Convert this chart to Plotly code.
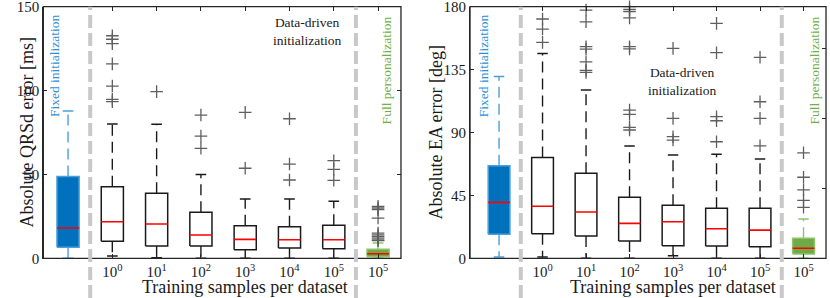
import plotly.graph_objects as go

# ---------------- data ----------------
tick_labels = ["10<sup>0</sup>", "10<sup>1</sup>", "10<sup>2</sup>", "10<sup>3</sup>",
               "10<sup>4</sup>", "10<sup>5</sup>", "10<sup>5</sup>"]
groups = ["fixed", "data", "data", "data", "data", "data", "data", "full"]

# Left panel: absolute QRSd error [ms]
qrs_q1 = [6.6, 10.1, 7.3, 7.3, 5.1, 6.1, 5.7, 1.0]
qrs_med = [18.1, 21.8, 20.5, 13.9, 11.3, 11.1, 11.1, 2.7]
qrs_q3 = [48.7, 42.7, 38.8, 27.4, 19.4, 18.8, 19.7, 5.4]
qrs_lo = [0.0, 1.4, 0.4, 0.0, 0.0, 0.0, 0.0, 0.0]
qrs_hi = [87.8, 80.0, 79.9, 50.0, 35.4, 35.4, 34.0, 9.1]
qrs_out = [[], [93.4, 94.8, 102.7, 115.9, 128.0, 130.6, 132.7], [99.4],
           [65.6, 72.9, 85.4], [53.7, 87.0], [46.7, 56.2, 83.2], [46.5, 53.0, 58.2],
           [10.5, 11.0, 12.0, 13.0, 14.0, 15.0, 24.0, 29.0, 30.0, 31.0]]

# Right panel: absolute EA error [deg]
ea_q1 = [17.2, 17.6, 16.0, 12.4, 9.0, 8.8, 8.3, 3.1]
ea_med = [40.0, 37.2, 33.1, 25.0, 26.2, 21.2, 20.2, 7.2]
ea_q3 = [66.2, 72.2, 60.8, 43.6, 37.9, 35.8, 35.8, 14.3]
ea_lo = [1.0, 1.0, 0.0, 0.0, 1.9, 0.0, 0.0, 0.0]
ea_hi = [130.0, 146.6, 120.4, 80.3, 73.9, 74.4, 71.0, 28.1]
ea_out = [[], [154.5, 164.0, 171.2],
          [133.0, 134.5, 140.6, 149.7, 151.4, 169.2, 177.6],
          [91.8, 93.7, 103.0, 106.0, 149.8, 151.4, 172.0, 176.5, 178.0, 180.0],
          [84.6, 87.0, 100.1, 150.2], [83.4, 98.4, 101.3, 147.1, 168.1],
          [80.5, 100.1, 112.0, 143.8], [36.5, 41.5, 49.0, 58.0, 75.5]]

# ---------------- styles ----------------
FONT = "Liberation Serif"
FRAME = "#262626"
STY = {
    "fixed": dict(fill="#0072BD", edge="#4A9FDA", whisk="#4A9FDA"),
    "data": dict(fill="white", edge="#1a1a1a", whisk="#1a1a1a"),
    "full": dict(fill="#6FAA46", edge="#8CC46A", whisk="#8CC46A"),
}
HALF = 0.25
CAP = 0.12

fig = go.Figure()


def add_panel(q1, med, q3, lo, hi, out, xa, ya):
    for i in range(len(q1)):
        p = i + 1
        s = STY[groups[i]]
        # dashed whiskers
        fig.add_trace(go.Scatter(
            x=[p, p, None, p, p], y=[q3[i], hi[i], None, q1[i], lo[i]],
            mode="lines", line=dict(color=s["whisk"], width=1.4, dash="11px,6px"),
            xaxis=xa, yaxis=ya, showlegend=False, hoverinfo="skip"))
        # whisker caps
        fig.add_trace(go.Scatter(
            x=[p - CAP, p + CAP, None, p - CAP, p + CAP],
            y=[hi[i], hi[i], None, lo[i], lo[i]],
            mode="lines", line=dict(color=s["whisk"], width=1.5),
            xaxis=xa, yaxis=ya, showlegend=False, hoverinfo="skip"))
        # box (q1..q3)
        fig.add_trace(go.Scatter(
            x=[p - HALF, p + HALF, p + HALF, p - HALF, p - HALF],
            y=[q1[i], q1[i], q3[i], q3[i], q1[i]],
            mode="lines", fill="toself", fillcolor=s["fill"],
            line=dict(color=s["edge"], width=1.5),
            xaxis=xa, yaxis=ya, showlegend=False, hoverinfo="skip"))
        # median
        fig.add_trace(go.Scatter(
            x=[p - HALF, p + HALF], y=[med[i], med[i]],
            mode="lines", line=dict(color="#FF0000", width=1.6),
            xaxis=xa, yaxis=ya, showlegend=False, hoverinfo="skip"))
        # outliers
        if out[i]:
            fig.add_trace(go.Scatter(
                x=[p] * len(out[i]), y=out[i], mode="markers",
                marker=dict(symbol="cross-thin", size=9,
                            line=dict(color="#5f5f5f", width=1.3)),
                xaxis=xa, yaxis=ya, showlegend=False, hoverinfo="skip", cliponaxis=False))


add_panel(qrs_q1, qrs_med, qrs_q3, qrs_lo, qrs_hi, qrs_out, "x", "y")
add_panel(ea_q1, ea_med, ea_q3, ea_lo, ea_hi, ea_out, "x2", "y2")

# invisible anchors so the overlay tick-only axes get drawn
for xa, ya in [("x3", "y"), ("x4", "y2"), ("x", "y3"), ("x2", "y4")]:
    fig.add_trace(go.Scatter(x=[4], y=[1], mode="markers", marker=dict(opacity=0),
                             xaxis=xa, yaxis=ya, showlegend=False, hoverinfo="skip"))

ydom = [0.1332, 0.9775]
xdom1 = [0.0522, 0.4831]
xdom2 = [0.5663, 0.9952]
xr1 = [0.442, 8.517]
xr2 = [0.333, 8.517]
axis_common = dict(showline=True, linecolor=FRAME, linewidth=1.2, showgrid=False,
                   zeroline=False, ticks="inside", ticklen=4, tickcolor=FRAME,
                   ticklabeloverflow="allow",
                   tickfont=dict(family=FONT, size=15, color="#1a1a1a"))
tick_only = dict(ticks="inside", ticklen=4, tickwidth=1, tickcolor=FRAME,
                 showticklabels=False, showline=False, showgrid=False, zeroline=False)

fig.update_layout(
    width=830, height=298, margin=dict(l=0, r=0, t=0, b=0, autoexpand=False),
    plot_bgcolor="white", paper_bgcolor="white",
    xaxis=dict(domain=xdom1, range=xr1, anchor="y",
               tickvals=list(range(2, 9)), ticktext=tick_labels, **axis_common),
    yaxis=dict(domain=ydom, range=[0, 150], anchor="x", tickvals=[0, 50, 100, 150],
               **axis_common),
    xaxis2=dict(domain=xdom2, range=xr2, anchor="y2",
                tickvals=list(range(2, 9)), ticktext=tick_labels, **axis_common),
    yaxis2=dict(domain=ydom, range=[0, 180], anchor="x2",
                tickvals=[0, 45, 90, 135, 180], **axis_common),
    # top ticks
    xaxis3=dict(range=xr1, overlaying="x", anchor="y", side="top",
                tickvals=list(range(2, 9)), **tick_only),
    xaxis4=dict(range=xr2, overlaying="x2", anchor="y2", side="top",
                tickvals=list(range(2, 9)), **tick_only),
    # right-side ticks
    yaxis3=dict(range=[0, 150], overlaying="y", anchor="x", side="right",
                tickvals=[50, 100], **tick_only),
    yaxis4=dict(range=[0, 180], overlaying="y2", anchor="x2", side="right",
                tickvals=[50, 100, 150], **tick_only),
)

# panel frames
for xr, yr in [("x domain", "y domain"), ("x2 domain", "y2 domain")]:
    fig.add_shape(type="rect", xref=xr, yref=yr, x0=0, x1=1, y0=0, y1=1,
                  line=dict(color=FRAME, width=1.3), layer="above")

# dashed group separators
for xr in ["x", "x2"]:
    for xv in [1.5, 7.5]:
        fig.add_shape(type="line", xref=xr, yref="paper", x0=xv, x1=xv, y0=0.0, y1=ydom[1],
                      line=dict(color="#C8C8C8", width=4, dash="13px,5px"), layer="above")

ann = []
tf = dict(family=FONT, size=13.5)
ann.append(dict(x=0.71, y=114.7, xref="x", yref="y", text="Fixed initialization",
                textangle=-90, showarrow=False, font=dict(color="#2E8FD6", **tf)))
ann.append(dict(x=8.2, y=112, xref="x", yref="y", text="Full personalization",
                textangle=-90, showarrow=False, font=dict(color="#6DB04A", **tf)))
ann.append(dict(x=6.4, y=135, xref="x", yref="y", text="Data-driven<br>initialization",
                showarrow=False, font=dict(color="#1a1a1a", **tf)))
ann.append(dict(x=0.632, y=137.5, xref="x2", yref="y2", text="Fixed initialization",
                textangle=-90, showarrow=False, font=dict(color="#2E8FD6", **tf)))
ann.append(dict(x=8.26, y=134.3, xref="x2", yref="y2", text="Full personalization",
                textangle=-90, showarrow=False, font=dict(color="#6DB04A", **tf)))
ann.append(dict(x=5.2, y=126.8, xref="x2", yref="y2", text="Data-driven<br>initialization",
                showarrow=False, font=dict(color="#1a1a1a", **tf)))
titf = dict(family=FONT, size=18, color="#1a1a1a")
for xr in ["x", "x2"]:
    ann.append(dict(x=5, y=11 / 298, xref=xr, yref="paper", text="Training samples per dataset",
                    showarrow=False, font=titf, yanchor="middle"))
ann.append(dict(x=15 / 830, y=sum(ydom) / 2, xref="paper", yref="paper",
                text="Absolute QRSd error [ms]", textangle=-90, showarrow=False, font=titf))
ann.append(dict(x=436 / 830, y=sum(ydom) / 2, xref="paper", yref="paper",
                text="Absolute EA error [deg]", textangle=-90, showarrow=False, font=titf))
fig.update_layout(annotations=ann)

fig.write_html("out.html", config={"displayModeBar": False},
               post_script="document.body.style.margin='0';")
